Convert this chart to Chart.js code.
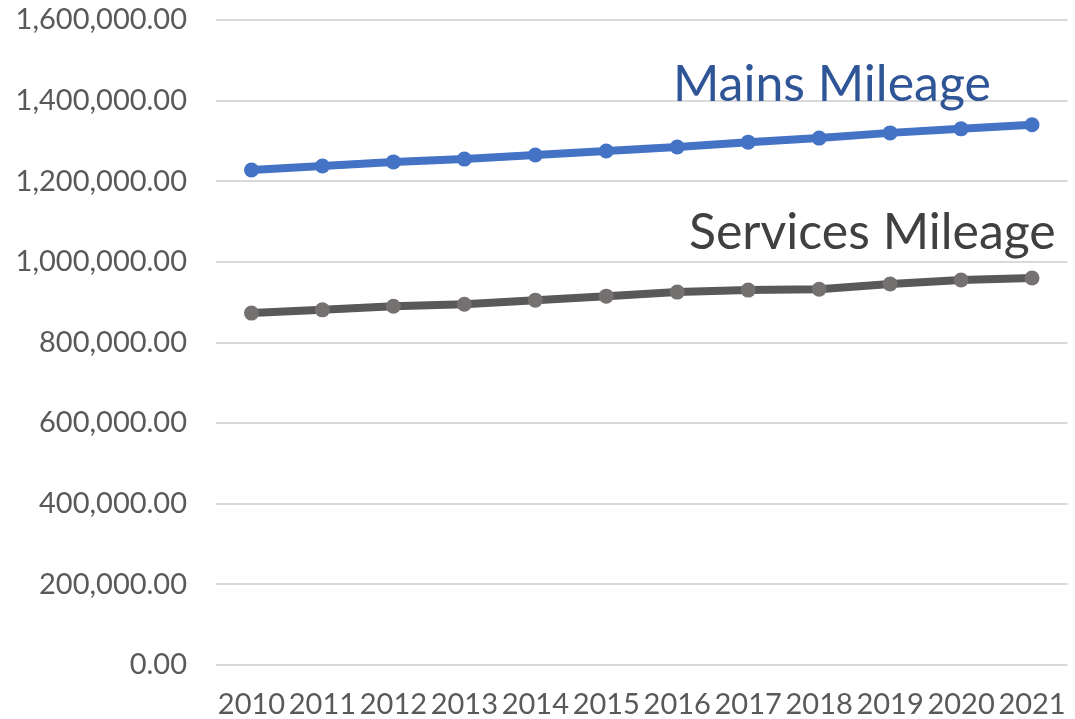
<!DOCTYPE html>
<html>
<head>
<meta charset="utf-8">
<script src="https://cdn.jsdelivr.net/npm/chart.js@4.4.0/dist/chart.umd.min.js"></script>
<style>
  html, body { margin: 0; padding: 0; background: #fff; overflow: hidden; }
  #wrap { width: 1075px; height: 719px; }
</style>
</head>
<body>
<div id="wrap"><canvas id="chart"></canvas></div>
<script>
// values
const years = ['2010', '2011', '2012', '2013', '2014', '2015', '2016', '2017', '2018', '2019', '2020', '2021'];
const mainsMileage = [1228000, 1238000, 1248000, 1255000, 1265000, 1275000, 1285000, 1297000, 1307000, 1320000, 1330000, 1340000];
const servicesMileage = [873000, 881000, 890000, 895000, 905000, 915000, 925000, 930000, 932000, 945000, 955000, 960000];
const seriesNames = ['Mains Mileage', 'Services Mileage'];

const fontFamily = 'Lato, "Open Sans", sans-serif';

// labels drawn inside the plot, next to each line
const inlineLabels = {
  id: 'inlineLabels',
  afterDatasetsDraw(chart) {
    const ctx = chart.ctx;
    const x = chart.scales.x;
    const y = chart.scales.y;
    const labels = [
      { text: seriesNames[0], idx: 8.18, val: 1438000, color: '#2F5597' },
      { text: seriesNames[1], idx: 8.75, val: 1072000, color: '#404040' }
    ];
    ctx.save();
    ctx.font = '50px ' + fontFamily;
    ctx.textAlign = 'center';
    ctx.textBaseline = 'middle';
    labels.forEach(l => {
      const px = x.getPixelForValue(0) + l.idx * (x.getPixelForValue(1) - x.getPixelForValue(0));
      ctx.fillStyle = l.color;
      ctx.fillText(l.text, px, y.getPixelForValue(l.val));
    });
    ctx.restore();
  }
};

let ctx = document.getElementById('chart');
let myChart = new Chart(ctx, {
  type: 'line',
  data: {
    labels: years,
    datasets: [{
      label: seriesNames[0],
      data: mainsMileage,
      borderColor: '#4472C4',
      backgroundColor: '#4472C4',
      borderWidth: 8,
      pointRadius: 7.5,
      pointBackgroundColor: '#4472C4',
      pointBorderWidth: 0,
      tension: 0
    }, {
      label: seriesNames[1],
      data: servicesMileage,
      borderColor: '#595959',
      backgroundColor: '#767171',
      borderWidth: 8,
      pointRadius: 7.5,
      pointBackgroundColor: '#767171',
      pointBorderWidth: 0,
      tension: 0
    }]
  },
  options: {
    responsive: true,
    maintainAspectRatio: false,
    animation: false,
    layout: { padding: { left: 0, right: 3, top: 20, bottom: 0 } },
    plugins: {
      legend: { display: false },
      tooltip: { enabled: false }
    },
    scales: {
      x: {
        offset: true,
        grid: { display: false, drawTicks: false },
        border: { display: false },
        ticks: {
          color: '#595959',
          font: { family: fontFamily, size: 29 },
          padding: 22,
          maxRotation: 0,
          autoSkip: false
        },
        afterFit: scale => {
          scale.height = 54;
          scale.paddingLeft = 0;
          scale.paddingRight = 0;
        }
      },
      y: {
        min: 0,
        max: 1600000,
        grid: { color: '#D9D9D9', lineWidth: 2, drawTicks: false },
        border: { display: false },
        ticks: {
          stepSize: 200000,
          color: '#595959',
          font: { family: fontFamily, size: 29 },
          padding: 29,
          callback: v => v.toLocaleString('en-US', { minimumFractionDigits: 2, maximumFractionDigits: 2 })
        },
        afterFit: scale => {
          scale.width = 216;
          scale.paddingTop = 0;
          scale.paddingBottom = 0;
        }
      }
    }
  },
  plugins: [inlineLabels]
});
</script>
</body>
</html>
